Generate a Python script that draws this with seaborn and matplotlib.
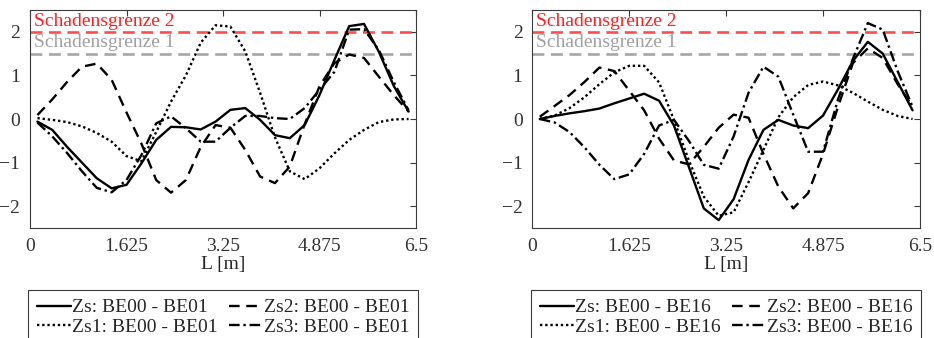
import numpy as np
import pandas as pd
import matplotlib
matplotlib.use("Agg")
import matplotlib.pyplot as plt
import seaborn as sns

# ---------------- data ----------------
L = [0.125 + 0.25 * k for k in range(26)]  # measurement positions [m]

# Left panel: BE00 - BE01
zs_01 = [-0.06, -0.25, -0.64, -1.0, -1.36, -1.59, -1.51, -1.02, -0.48, -0.18, -0.19, -0.24, -0.06,
         0.21, 0.25, -0.02, -0.37, -0.44, -0.14, 0.55, 1.35, 2.13, 2.18, 1.54, 0.76, 0.17]
zs1_01 = [0.02, -0.02, -0.07, -0.17, -0.32, -0.52, -0.85, -0.97, -0.3, 0.4, 1.0, 1.75, 2.15,
          2.12, 1.55, 0.6, -0.42, -1.2, -1.38, -1.13, -0.79, -0.48, -0.25, -0.07, -0.01, 0.0]
zs2_01 = [0.09, 0.45, 0.85, 1.2, 1.27, 0.9, 0.15, -0.56, -1.4, -1.69, -1.4, -0.64, -0.14,
          -0.2, -0.71, -1.32, -1.47, -1.09, -0.12, 0.75, 1.28, 1.48, 1.4, 0.97, 0.55, 0.17]
zs3_01 = [-0.08, -0.4, -0.78, -1.2, -1.58, -1.68, -1.4, -0.83, -0.1, 0.06, -0.21, -0.52, -0.52,
          -0.2, 0.07, 0.07, 0.02, 0.0, 0.25, 0.67, 1.08, 2.05, 2.06, 1.58, 0.85, 0.2]

# Right panel: BE00 - BE16
zs_16 = [0.0, 0.07, 0.13, 0.18, 0.24, 0.36, 0.47, 0.58, 0.42, -0.15, -1.1, -2.05, -2.32,
         -1.84, -0.94, -0.25, -0.02, -0.15, -0.21, 0.08, 0.68, 1.33, 1.77, 1.5, 0.85, 0.2]
zs1_16 = [0.0, 0.08, 0.25, 0.5, 0.8, 1.07, 1.22, 1.22, 0.84, -0.02, -0.95, -1.78, -2.22,
          -2.14, -1.45, -0.71, 0.04, 0.5, 0.78, 0.86, 0.77, 0.6, 0.4, 0.21, 0.07, 0.0]
zs2_16 = [0.05, 0.3, 0.55, 0.85, 1.18, 1.1, 0.65, 0.2, -0.45, -0.95, -1.04, -0.64, -0.2,
          0.1, 0.03, -0.8, -1.55, -2.05, -1.7, -0.8, 0.28, 1.28, 1.62, 1.4, 0.8, 0.28]
zs3_16 = [0.0, -0.08, -0.3, -0.65, -1.05, -1.38, -1.27, -0.8, -0.15, -0.02, -0.5, -1.05, -1.14,
          -0.4, 0.6, 1.2, 0.97, 0.1, -0.75, -0.75, 0.45, 1.38, 2.2, 2.05, 1.1, 0.28]

limit1 = 1.5
limit2 = 2.0
limit_labels = ["Schadensgrenze 1", "Schadensgrenze 2"]
xticks = [0, 1.625, 3.25, 4.875, 6.5]
xticklabels = ["0", "1.625", "3.25", "4.875", "6.5"]
yticks = [-2, -1, 0, 1, 2]
series_names = ["Zs", "Zs1", "Zs2", "Zs3"]
pairs = ["BE00 - BE01", "BE00 - BE16"]

# ---------------- style ----------------
sns.set_style("white")
plt.rcParams["font.family"] = ["Liberation Serif", "DejaVu Serif"]
FS = 14

fig = plt.figure(figsize=(9.34, 3.38), dpi=100)
ax_l = fig.add_axes([30 / 934, 110 / 338, 386 / 934, 218 / 338])
ax_r = fig.add_axes([532.3 / 934, 110 / 338, 387.7 / 934, 218 / 338])

styles = {
    "Zs": dict(linestyle="-"),
    "Zs1": dict(linestyle=(0, (1.0, 1.2))),
    "Zs2": dict(linestyle=(0, (4.5, 2.8))),
    "Zs3": dict(linestyle=(0, (4.5, 1.6, 1.0, 1.6))),
}

panels = [
    (ax_l, pairs[0], [zs_01, zs1_01, zs2_01, zs3_01]),
    (ax_r, pairs[1], [zs_16, zs1_16, zs2_16, zs3_16]),
]

edge = "#3a3a3a"
for ax, pair, data in panels:
    # limit lines
    ax.axhline(limit2, color="#ff4d4d", lw=1.9, linestyle=(0, (4.5, 2.5)), zorder=1)
    ax.axhline(limit1, color="#a6a6a6", lw=1.9, linestyle=(0, (4.5, 2.5)), zorder=1)
    ax.text(0.06, 2.14, limit_labels[1], color="#ff2020", fontsize=FS, va="baseline", ha="left")
    ax.text(0.06, 1.64, limit_labels[0], color="#a0a0a0", fontsize=FS, va="baseline", ha="left")

    for name, vals in zip(series_names, data):
        df = pd.DataFrame({"L": L, "v": vals})
        sns.lineplot(data=df, x="L", y="v", ax=ax, color="black", lw=1.7,
                     label=f"{name}: {pair}", legend=False, **styles[name])
    lines = ax.get_lines()[2:]
    leg_labels = [f"{n}: {pair}" for n in series_names]
    leg = ax.legend(lines[:4], leg_labels, ncol=2, loc="upper center",
                    bbox_to_anchor=(0.5, -0.285), fontsize=FS, frameon=True,
                    fancybox=False, edgecolor=edge, framealpha=1,
                    handlelength=1.75, handletextpad=0.05, columnspacing=0.6,
                    labelspacing=0.1, borderpad=0.45, borderaxespad=0)
    leg.get_frame().set_linewidth(0.8)

    ax.set_xlim(0, 6.5)
    ax.set_ylim(-2.5, 2.5)
    ax.set_xticks(xticks)
    ax.set_xticklabels(xticklabels)
    ax.set_yticks(yticks)
    ax.set_xlabel("L [m]", fontsize=FS, labelpad=1, color="#262626")
    ax.set_ylabel("")
    ax.tick_params(direction="in", length=4, width=0.8, top=True, right=True,
                   labelsize=FS, colors=edge, labelcolor="#333333", pad=7)
    for sp in ax.spines.values():
        sp.set_visible(True)
        sp.set_color(edge)
        sp.set_linewidth(0.8)

fig.savefig("out.png", dpi=100)
